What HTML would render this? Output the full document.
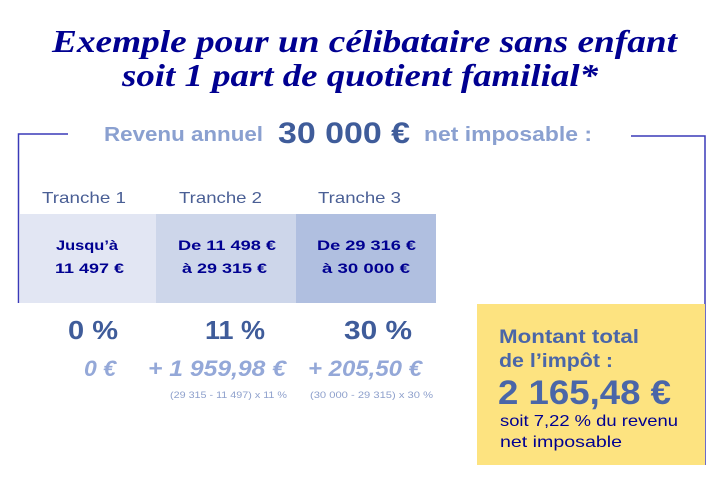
<!DOCTYPE html>
<html><head><meta charset="utf-8"><style>html,body{margin:0;padding:0;background:#fff}svg{display:block}</style></head><body>
<svg width="726" height="480" viewBox="0 0 726 480" xmlns="http://www.w3.org/2000/svg" font-family="Liberation Sans, sans-serif">
<g font-family="Liberation Serif, serif" font-weight="bold" font-style="italic" fill="#000091" font-size="32">
<text x="52" y="52" textLength="625" lengthAdjust="spacingAndGlyphs">Exemple pour un célibataire sans enfant</text>
<text x="122" y="86" textLength="476" lengthAdjust="spacingAndGlyphs">soit 1 part de quotient familial*</text>
</g>
<g stroke="#3a3ab8" stroke-width="1.5" fill="none">
<polyline points="68,134 18.5,134 18.5,303"/>
<polyline points="631,136 705,136 705,465"/>
</g>
<rect x="20" y="214" width="136" height="89" fill="#e2e6f3"/>
<rect x="156" y="214" width="140" height="89" fill="#cdd6ea"/>
<rect x="296" y="214" width="140" height="89" fill="#b0bfe0"/>
<rect x="477" y="304" width="228" height="161" fill="#fde380"/>
<g font-weight="bold">
<text x="104" y="141" font-size="20" fill="#8aa0d0" textLength="159" lengthAdjust="spacingAndGlyphs">Revenu annuel</text>
<text x="278" y="143" font-size="30" fill="#3f5c9a" textLength="132" lengthAdjust="spacingAndGlyphs">30 000 €</text>
<text x="424" y="141" font-size="20" fill="#8aa0d0" textLength="168" lengthAdjust="spacingAndGlyphs">net imposable :</text>
</g>
<g font-size="16" fill="#4a5f95">
<text x="42" y="203" textLength="84" lengthAdjust="spacingAndGlyphs">Tranche 1</text>
<text x="179" y="203" textLength="83" lengthAdjust="spacingAndGlyphs">Tranche 2</text>
<text x="318" y="203" textLength="83" lengthAdjust="spacingAndGlyphs">Tranche 3</text>
</g>
<g font-size="14" font-weight="bold" fill="#000091">
<text x="56" y="250" textLength="62" lengthAdjust="spacingAndGlyphs">Jusqu’à</text>
<text x="55" y="273" textLength="69" lengthAdjust="spacingAndGlyphs">11 497 €</text>
<text x="178" y="250" textLength="98" lengthAdjust="spacingAndGlyphs">De 11 498 €</text>
<text x="182" y="273" textLength="85" lengthAdjust="spacingAndGlyphs">à 29 315 €</text>
<text x="317" y="250" textLength="99" lengthAdjust="spacingAndGlyphs">De 29 316 €</text>
<text x="322" y="273" textLength="88" lengthAdjust="spacingAndGlyphs">à 30 000 €</text>
</g>
<g font-size="26" font-weight="bold" fill="#3f5c9a">
<text x="68" y="339" textLength="50" lengthAdjust="spacingAndGlyphs">0 %</text>
<text x="205" y="339" textLength="60" lengthAdjust="spacingAndGlyphs">11 %</text>
<text x="344" y="339" textLength="68" lengthAdjust="spacingAndGlyphs">30 %</text>
</g>
<g font-size="22" font-weight="bold" font-style="italic" fill="#94a8d8">
<text x="84" y="376" textLength="32" lengthAdjust="spacingAndGlyphs">0 €</text>
<text x="148" y="376" textLength="138" lengthAdjust="spacingAndGlyphs">+ 1 959,98 €</text>
<text x="308" y="376" textLength="114" lengthAdjust="spacingAndGlyphs">+ 205,50 €</text>
</g>
<g font-size="9" fill="#8ea0cc">
<text x="170" y="398" textLength="117" lengthAdjust="spacingAndGlyphs">(29 315 - 11 497) x 11 %</text>
<text x="310" y="398" textLength="123" lengthAdjust="spacingAndGlyphs">(30 000 - 29 315) x 30 %</text>
</g>
<g font-weight="bold" fill="#4a66a8">
<text x="499" y="343" font-size="19" textLength="140" lengthAdjust="spacingAndGlyphs">Montant total</text>
<text x="499" y="367" font-size="19" textLength="114" lengthAdjust="spacingAndGlyphs">de l’impôt :</text>
<text x="498" y="404" font-size="34" textLength="173" lengthAdjust="spacingAndGlyphs">2 165,48 €</text>
</g>
<g font-size="16" fill="#000091">
<text x="500" y="426" textLength="178" lengthAdjust="spacingAndGlyphs">soit 7,22 % du revenu</text>
<text x="500" y="447" textLength="122" lengthAdjust="spacingAndGlyphs">net imposable</text>
</g>
</svg>
</body></html>
